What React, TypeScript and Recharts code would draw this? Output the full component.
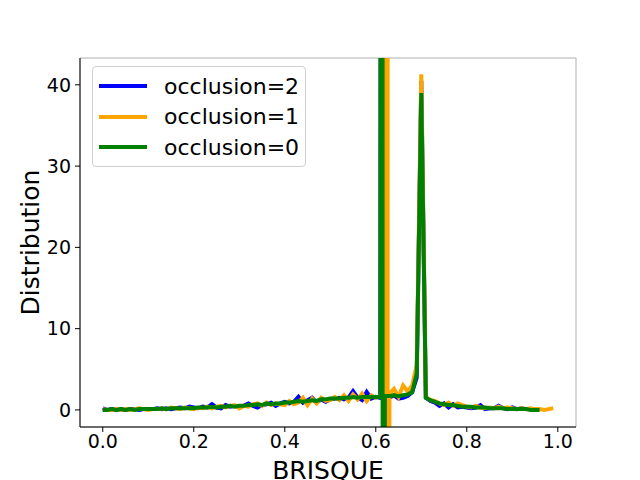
import React from 'react';
import {
  LineChart,
  Line,
  XAxis,
  YAxis,
  CartesianGrid,
  Legend,
} from 'recharts';

// BRISQUE bins (step 0.01)
const blueY = [
  0.2, 0.0, 0.1, 0.0, 0.1, 0.0, 0.1, 0.1, 0.0, 0.1,
  0.1, 0.1, 0.2, 0.1, 0.2, 0.1, 0.2, 0.3, 0.2, 0.4,
  0.3, 0.2, 0.4, 0.3, 0.7, 0.3, 0.2, 0.6, 0.4, 0.5,
  0.4, 0.5, 0.8, 0.5, 0.3, 0.6, 0.7, 0.9, 0.5, 0.8,
  1.0, 0.8, 1.0, 1.6, 0.9, 1.2, 1.5, 0.9, 1.3, 1.0,
  1.3, 1.4, 1.5, 1.3, 1.5, 2.3, 1.5, 1.2, 2.2, 1.4,
  1.6, 1.5, 1.6, 1.5, 1.8, 1.4, 1.5, 1.7, 2.2, 4.0,
  40.5, 1.5, 1.1, 0.9, 0.5, 0.8, 0.3, 0.7, 0.3, 0.4,
  0.3, 0.2, 0.3, 0.6, 0.1, 0.2, 0.2, 0.5, 0.2, 0.1,
  0.3, 0.1, 0.2, 0.1, 0.1, 0.0, 0.1,
];
const orangeY = [
  0.1, 0.0, 0.0, 0.1, 0.0, 0.1, 0.0, 0.1, 0.2, 0.1,
  0.0, 0.1, 0.1, 0.2, 0.1, 0.3, 0.2, 0.1, 0.3, 0.2,
  0.1, 0.3, 0.2, 0.4, 0.2, 0.4, 0.5, 0.3, 0.5, 0.6,
  0.2, 0.5, 0.4, 0.7, 0.8, 0.5, 0.9, 0.6, 0.8, 0.7,
  0.6, 1.1, 0.7, 0.9, 1.5, 0.6, 1.4, 0.8, 1.5, 1.1,
  1.2, 1.6, 1.2, 1.8, 1.1, 1.9, 1.3, 2.0, 1.1, 1.8,
  1.5, 1.7, 1.4, 2.0, 2.6, 1.6, 3.0, 2.3, 3.0, 5.5,
  41.3, 1.6, 1.2, 1.1, 0.8, 0.6, 0.9, 0.5, 0.8, 0.6,
  0.4, 0.3, 0.5, 0.3, 0.2, 0.3, 0.2, 0.4, 0.2, 0.3,
  0.2, 0.1, 0.2, 0.1, 0.2, 0.1, 0.1, 0.0, 0.1, 0.2,
];
const greenY = [
  0.0, 0.0, 0.1, 0.0, 0.1, 0.0, 0.1, 0.0, 0.1, 0.1,
  0.1, 0.1, 0.1, 0.2, 0.1, 0.2, 0.2, 0.2, 0.2, 0.2,
  0.2, 0.3, 0.3, 0.3, 0.4, 0.3, 0.4, 0.4, 0.5, 0.4,
  0.5, 0.5, 0.6, 0.6, 0.7, 0.6, 0.8, 0.7, 0.8, 0.8,
  0.9, 0.9, 1.0, 1.1, 1.0, 1.1, 1.2, 1.1, 1.3, 1.3,
  1.4, 1.4, 1.4, 1.5, 1.5, 1.6, 1.5, 1.6, 1.6, 1.6,
  1.6, 1.6, 1.7, 1.7, 1.8, 1.7, 1.8, 1.9, 2.2, 4.5,
  39.0, 1.5, 1.2, 1.0, 0.8, 0.7, 0.6, 0.6, 0.5, 0.4,
  0.4, 0.4, 0.3, 0.3, 0.3, 0.2, 0.2, 0.2, 0.2, 0.1,
  0.1, 0.1, 0.1, 0.1, 0.0, 0.0, 0.0,
];

// points where each curve shoots off the chart (top and bottom)
const blueSpikeX = 0.617;
const orangeSpikeX = 0.626;
const greenSpikeX = 0.615;
const spikeValues = [500, -500];

const xTicks = [0, 0.2, 0.4, 0.6, 0.8, 1.0];
const yTicks = [0, 10, 20, 30, 40];

const names = ['occlusion=2', 'occlusion=1', 'occlusion=0'];
const colors = ['#0000ff', '#ffa500', '#008000'];

const build = (ys: number[], spikeX: number) => {
  const pts = ys.map((y, i) => ({ x: i / 100, y }));
  const at = pts.findIndex((p) => p.x > spikeX);
  const spike = spikeValues.map((y) => ({ x: spikeX, y }));
  return [...pts.slice(0, at), ...spike, ...pts.slice(at)];
};

const series = [
  build(blueY, blueSpikeX),
  build(orangeY, orangeSpikeX),
  build(greenY, greenSpikeX),
];

const font = 'DejaVu Sans, sans-serif';

const LegendBox = () => (
  <div
    style={{
      border: '1px solid #d0d0d0',
      borderRadius: 4,
      background: 'rgba(255,255,255,0.8)',
      width: 214,
      height: 101,
      boxSizing: 'border-box',
      paddingTop: 4,
      fontFamily: font,
      fontSize: 22,
      color: '#000',
    }}
  >
    {names.map((n, i) => (
      <div key={n} style={{ display: 'flex', alignItems: 'center', height: 30.5 }}>
        <div style={{ width: 48, height: 4, background: colors[i], marginLeft: 6, marginRight: 17 }} />
        <span>{n}</span>
      </div>
    ))}
  </div>
);

const App = () => {
  return (
    <div style={{ position: 'absolute', left: 0, top: 0, width: 640, height: 480, background: '#fff' }}>
      <LineChart width={640} height={480} margin={{ top: 58, right: 64, bottom: 0, left: 0 }}>
        <CartesianGrid stroke="#b0b0b0" strokeWidth={1} />
        <XAxis
          xAxisId="b"
          type="number"
          dataKey="x"
          domain={[-0.05, 1.04]}
          ticks={xTicks}
          allowDataOverflow
          height={53}
          stroke="#000"
          tickSize={5}
          tickMargin={3}
          tick={{ fill: '#000', fontSize: 19, fontFamily: font }}
          tickFormatter={(v: number) => v.toFixed(1)}
          label={{ value: 'BRISQUE', position: 'center', dy: 17, fill: '#000', fontSize: 25, fontFamily: font }}
        />
        <XAxis xAxisId="t" orientation="top" type="number" domain={[0, 1]} height={0} tick={false} tickLine={false} stroke="#000" />
        <YAxis
          yAxisId="l"
          type="number"
          domain={[-2.1, 43.3]}
          ticks={yTicks}
          allowDataOverflow
          width={80}
          stroke="#000"
          tickSize={5}
          tickMargin={4}
          tick={{ fill: '#000', fontSize: 19, fontFamily: font }}
          label={{ value: 'Distribution', angle: -90, position: 'center', dx: -10, fill: '#000', fontSize: 25, fontFamily: font }}
        />
        <YAxis yAxisId="r" orientation="right" type="number" domain={[0, 1]} width={0} tick={false} tickLine={false} stroke="#000" />
        <Legend
          layout="vertical"
          align="center"
          verticalAlign="middle"
          content={() => <LegendBox />}
          wrapperStyle={{ position: 'absolute', left: 92, top: 66, width: 214 }}
        />
        {series.map((d, i) => (
          <Line
            key={names[i]}
            xAxisId="b"
            yAxisId="l"
            data={d}
            dataKey="y"
            name={names[i]}
            type="linear"
            stroke={colors[i]}
            strokeWidth={4}
            dot={false}
            isAnimationActive={false}
          />
        ))}
      </LineChart>
    </div>
  );
};

export default App;
